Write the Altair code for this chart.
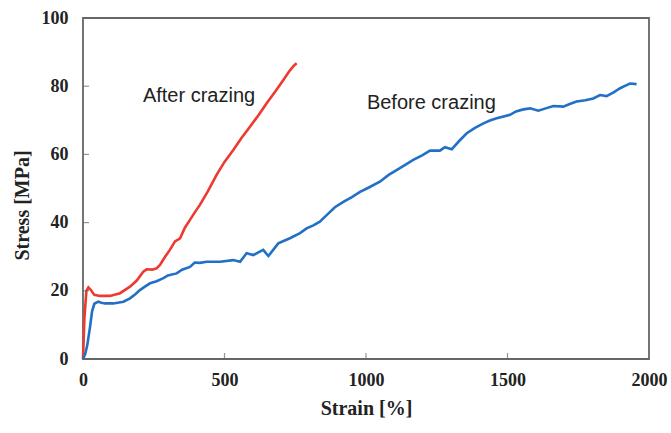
import altair as alt
import pandas as pd

# After crazing (red)
after_strain = [0, 5, 12, 19, 28, 40, 60, 95, 131, 166, 190, 213, 225, 245, 260, 272, 290, 307,
                325, 343, 360, 378, 395, 413, 440, 472, 500, 531, 560, 590, 620, 649, 680, 708,
                730, 745, 755]
after_stress = [0, 12, 20, 21.0, 20.2, 18.8, 18.5, 18.5, 19.3, 21.2, 23, 25.6, 26.3, 26.2, 26.6,
                27.6, 30, 32, 34.5, 35.4, 38.5, 40.8, 43, 45.2, 49, 54, 57.8, 61.3, 64.8, 68.1,
                71.5, 75, 78.5, 81.8, 84.5, 86, 86.7]

# Before crazing (blue)
before_strain = [0, 8, 15, 25, 32, 40, 54, 65, 78, 107, 143, 166, 185, 201, 220, 237, 260, 284,
                 300, 331, 350, 378, 395, 413, 437, 460, 484, 531, 555, 578, 602, 625, 637, 655,
                 690, 731, 767, 790, 814, 837, 861, 890, 920, 950, 979, 1010, 1049, 1080, 1108,
                 1140, 1167, 1200, 1226, 1261, 1279, 1303, 1330, 1356, 1385, 1415, 1440, 1462,
                 1509, 1530, 1556, 1580, 1609, 1635, 1662, 1697, 1720, 1744, 1775, 1803, 1827,
                 1850, 1875, 1898, 1915, 1933, 1956]
before_stress = [0, 1.5, 4, 9.5, 14, 16.2, 16.8, 16.5, 16.3, 16.3, 16.8, 17.8, 19, 20.2, 21.3,
                 22.2, 22.8, 23.7, 24.5, 25.1, 26.2, 27, 28.3, 28.2, 28.5, 28.5, 28.5, 29, 28.5,
                 31, 30.5, 31.5, 32, 30.2, 33.9, 35.4, 36.9, 38.3, 39.2, 40.3, 42.2, 44.5, 46.1,
                 47.5, 49, 50.3, 52, 54, 55.4, 57, 58.4, 59.8, 61.1, 61.1, 62.1, 61.5, 64, 66.2,
                 67.8, 69.1, 70, 70.6, 71.6, 72.6, 73.2, 73.5, 72.8, 73.5, 74.2, 74, 74.8, 75.5,
                 75.9, 76.4, 77.4, 77.1, 78.2, 79.4, 80.1, 80.8, 80.6]

label_text = ["After crazing", "Before crazing"]
label_strain = [410, 1231]
label_stress = [77.1, 75.1]

x_ticks = [0, 500, 1000, 1500, 2000]
y_ticks = [0, 20, 40, 60, 80, 100]

rows = []
for i, (s, t) in enumerate(zip(after_strain, after_stress)):
    rows.append({"series": "After crazing", "strain": s, "stress": t, "order": i})
for i, (s, t) in enumerate(zip(before_strain, before_stress)):
    rows.append({"series": "Before crazing", "strain": s, "stress": t, "order": i})
df = pd.DataFrame(rows)

labels_df = pd.DataFrame({"text": label_text, "strain": label_strain, "stress": label_stress})
xt_df = pd.DataFrame({"v": x_ticks[1:-1]})
yt_df = pd.DataFrame({"v": y_ticks[1:-1]})

SERIF = "Liberation Serif"

xscale = alt.Scale(domain=[0, 2000], nice=False, zero=False)
yscale = alt.Scale(domain=[0, 100], nice=False)

xaxis = alt.Axis(values=x_ticks, format="d", title="Strain [%]", ticks=False, domain=False, grid=False,
                 labelFont=SERIF, labelFontWeight="bold", labelFontSize=18, labelColor="#222",
                 labelPadding=12, labelFlush=False,
                 titleFont=SERIF, titleFontWeight="bold", titleFontSize=20, titleColor="#222",
                 titleY=49, titleBaseline="middle")
yaxis = alt.Axis(values=y_ticks, format="d", title="Stress [MPa]", ticks=False, domain=False, grid=False,
                 labelFont=SERIF, labelFontWeight="bold", labelFontSize=18, labelColor="#222",
                 labelPadding=15, labelFlush=False,
                 titleFont=SERIF, titleFontWeight="bold", titleFontSize=20, titleColor="#222",
                 titleX=-61, titleY=187, titleAngle=270, titleBaseline="middle", titleAlign="center")

lines = alt.Chart(df).mark_line(strokeWidth=2.6).encode(
    x=alt.X("strain:Q", scale=xscale, axis=xaxis),
    y=alt.Y("stress:Q", scale=yscale, axis=yaxis),
    color=alt.Color("series:N", scale=alt.Scale(domain=["After crazing", "Before crazing"],
                                                 range=["#ec3a30", "#2270c6"]), legend=None),
    order="order:Q",
)

texts = alt.Chart(labels_df).mark_text(font="Liberation Sans", fontSize=20, color="#222",
                                        align="center", baseline="middle").encode(
    x=alt.X("strain:Q", scale=xscale),
    y=alt.Y("stress:Q", scale=yscale),
    text="text:N",
)

xticks_layer = alt.Chart(xt_df).mark_tick(orient="vertical", size=6, thickness=1.2, color="#666").encode(
    x=alt.X("v:Q", scale=xscale),
    y=alt.value(338),
)
yticks_layer = alt.Chart(yt_df).mark_tick(orient="horizontal", size=6, thickness=1.2, color="#666").encode(
    y=alt.Y("v:Q", scale=yscale),
    x=alt.value(3),
)

chart = alt.layer(lines, texts, xticks_layer, yticks_layer).properties(
    width=566, height=341,
    autosize=alt.AutoSizeParams(type="none"),
    padding={"left": 83, "top": 18, "right": 22, "bottom": 74},
    background="white",
).configure_view(stroke="#666", strokeWidth=1.8)

chart.save("out.html", embed_options={"renderer": "svg", "actions": False})
